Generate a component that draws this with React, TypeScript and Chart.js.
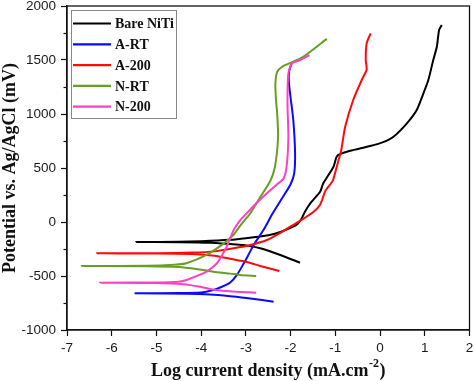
import React, { useEffect, useRef } from "react";
import { Chart, registerables } from "chart.js";

Chart.register(...registerables);

const seriesLabels = ["Bare NiTi", "A-RT", "A-200", "N-RT", "N-200"];
const seriesColors = ["#000000", "#0a0aff", "#ff0a0a", "#66a022", "#ff40c0"];

// Bare NiTi (cathodic end -> Ecorr -> anodic end)
const bareX = [-1.79, -2.23, -2.68, -3.06, -3.35, -3.8, -4.5, -5.45, -4.5, -4.0, -3.35, -3.0, -2.5, -2.23, -1.94, -1.83, -1.75, -1.68, -1.56, -1.34, -1.27, -1.04, -0.97, -0.9, -0.67, -0.22, 0.07, 0.3, 0.6, 0.82, 0.97, 1.08, 1.19, 1.27, 1.32, 1.38];
const bareY = [-377, -305, -243, -213, -204, -192, -187, -185, -183, -178, -165, -150, -122, -92, -43, -12, 34, 95, 173, 280, 358, 512, 605, 628, 660, 704, 740, 790, 914, 1037, 1192, 1315, 1500, 1623, 1778, 1824];

// A-RT
const artX = [-2.38, -2.9, -3.35, -3.8, -4.3, -5.47, -4.5, -4.0, -3.75, -3.55, -3.35, -3.2, -3.05, -2.95, -2.83, -2.6, -2.4, -2.16, -2.0, -1.92, -1.9, -1.94, -2.0, -2.04, -2.03, -1.97];
const artY = [-738, -708, -688, -672, -664, -660, -658, -652, -632, -602, -560, -490, -385, -310, -215, -70, 80, 240, 350, 450, 636, 944, 1150, 1300, 1400, 1475];

// A-200
const a200X = [-2.25, -2.68, -2.98, -3.35, -3.7, -4.2, -5.0, -6.33, -5.0, -4.2, -3.7, -3.28, -2.9, -2.53, -2.23, -2.0, -1.79, -1.5, -1.34, -1.22, -1.06, -0.95, -0.87, -0.78, -0.6, -0.41, -0.3, -0.32, -0.3, -0.21];
const a200Y = [-454, -407, -370, -340, -312, -296, -292, -290, -289, -283, -272, -244, -213, -167, -100, -40, 10, 90, 160, 290, 380, 540, 660, 882, 1130, 1315, 1410, 1500, 1654, 1747];

// N-RT
const nrtX = [-2.77, -3.13, -3.35, -3.73, -4.1, -4.5, -5.2, -6.67, -5.2, -4.6, -4.33, -3.88, -3.5, -3.28, -3.1, -2.9, -2.72, -2.46, -2.35, -2.28, -2.3, -2.33, -2.34, -2.3, -2.16, -1.94, -1.71, -1.19];
const nrtY = [-500, -490, -478, -460, -435, -416, -409, -407, -405, -395, -382, -305, -200, -120, -20, 81, 204, 375, 512, 790, 1000, 1150, 1284, 1390, 1445, 1484, 1531, 1696];

// N-200
const n200X = [-2.77, -3.13, -3.43, -3.75, -4.02, -4.4, -5.0, -6.26, -5.0, -4.5, -4.33, -3.88, -3.65, -3.43, -3.28, -3.13, -2.98, -2.75, -2.53, -2.3, -2.16, -2.09, -2.05, -2.07, -2.05, -1.97, -1.79, -1.58];
const n200Y = [-654, -648, -640, -625, -600, -576, -565, -562, -560, -553, -537, -460, -382, -229, -80, 15, 81, 180, 266, 350, 400, 512, 790, 1099, 1377, 1469, 1500, 1546];

const seriesX = [bareX, artX, a200X, nrtX, n200X];
const seriesY = [bareY, artY, a200Y, nrtY, n200Y];

const xMin = -7;
const xMax = 2;
const yMin = -1000;
const yMax = 2000;
const yMajorStep = 500;
const yMinorStep = 250;

const yTitle = "Potential vs. Ag/AgCl (mV)";
const xTitleMain = "Log current density (mA.cm";
const xTitleSup = "-2";
const xTitleEnd = ")";

export default function App() {
  const ref = useRef<HTMLCanvasElement>(null);

  useEffect(() => {
    document.body.style.margin = "0";
    const canvas = ref.current;
    if (!canvas) return;

    const decor = {
      id: "decor",
      afterDraw(chart: any) {
        const { ctx, chartArea: a, scales } = chart;
        ctx.save();
        // full frame
        ctx.strokeStyle = "#111";
        ctx.lineWidth = 1.3;
        ctx.strokeRect(a.left, a.top, a.right - a.left, a.bottom - a.top);
        // minor y ticks
        const ys = scales.y;
        ctx.lineWidth = 1.2;
        ys.ticks.forEach((t: any) => {
          if (t.value % yMajorStep !== 0) {
            const py = Math.round(ys.getPixelForValue(t.value)) + 0.5;
            ctx.beginPath();
            ctx.moveTo(a.left - 3.5, py);
            ctx.lineTo(a.left, py);
            ctx.stroke();
          }
        });
        // legend
        const lx = a.left + 4;
        const ly = a.top + 4;
        const lw = 105;
        const lh = 108;
        ctx.strokeStyle = "#888";
        ctx.lineWidth = 1;
        ctx.strokeRect(lx + 0.5, ly + 0.5, lw, lh);
        ctx.font = "bold 14px 'Liberation Serif', serif";
        ctx.textBaseline = "middle";
        ctx.textAlign = "left";
        chart.data.datasets.forEach((ds: any, i: number) => {
          const ry = ly + 13.5 + i * 20.8;
          ctx.strokeStyle = ds.borderColor;
          ctx.lineWidth = 2.2;
          ctx.beginPath();
          ctx.moveTo(lx + 2, ry);
          ctx.lineTo(lx + 40, ry);
          ctx.stroke();
          ctx.fillStyle = "#111";
          ctx.fillText(ds.label, lx + 44, ry + 1);
        });
        // y title
        ctx.fillStyle = "#111";
        ctx.font = "bold 18px 'Liberation Serif', serif";
        ctx.save();
        ctx.translate(10, (a.top + a.bottom) / 2);
        ctx.rotate(-Math.PI / 2);
        ctx.textAlign = "center";
        ctx.textBaseline = "middle";
        ctx.fillText(yTitle, 0, 0);
        ctx.restore();
        // x title with superscript
        const mainFont = "bold 18px 'Liberation Serif', serif";
        const supFont = "bold 12px 'Liberation Serif', serif";
        ctx.font = mainFont;
        const w1 = ctx.measureText(xTitleMain).width;
        const w3 = ctx.measureText(xTitleEnd).width;
        ctx.font = supFont;
        const w2 = ctx.measureText(xTitleSup).width;
        const total = w1 + w2 + w3 + 1;
        let sx = (a.left + a.right) / 2 - total / 2;
        const by = 376;
        ctx.textAlign = "left";
        ctx.textBaseline = "alphabetic";
        ctx.font = mainFont;
        ctx.fillText(xTitleMain, sx, by);
        sx += w1 + 0.5;
        ctx.font = supFont;
        ctx.fillText(xTitleSup, sx, by - 9);
        sx += w2 + 0.5;
        ctx.font = mainFont;
        ctx.fillText(xTitleEnd, sx, by);
        ctx.restore();
      },
    };

    const tickFont = { family: "'Liberation Sans', Arial, sans-serif", size: 13.5 };

    const chart = new Chart(canvas, {
      type: "scatter",
      data: {
        datasets: seriesLabels.map((label, i) => ({
          label,
          data: seriesX[i].map((x, j) => ({ x, y: seriesY[i][j] })),
          borderColor: seriesColors[i],
          backgroundColor: seriesColors[i],
          showLine: true,
          pointRadius: 0,
          borderWidth: 2,
          tension: 0.2,
          order: seriesLabels.length - i,
        })),
      },
      options: {
        responsive: false,
        animation: false,
        layout: { padding: { left: 0, top: 6, right: 4.5, bottom: 0 } },
        plugins: { legend: { display: false }, tooltip: { enabled: false } },
        scales: {
          x: {
            type: "linear",
            min: xMin,
            max: xMax,
            ticks: { stepSize: 1, font: tickFont, color: "#1a1a1a", padding: 4, autoSkip: false },
            grid: { drawOnChartArea: false, drawTicks: true, tickLength: 6, tickColor: "#111", tickWidth: 1.2 },
            border: { display: true, color: "#111", width: 1.3 },
            afterFit(scale: any) {
              scale.height = 51;
              scale.paddingLeft = 0;
              scale.paddingRight = 0;
            },
          },
          y: {
            type: "linear",
            min: yMin,
            max: yMax,
            ticks: {
              stepSize: yMinorStep,
              font: tickFont,
              color: "#1a1a1a",
              padding: 5,
              autoSkip: false,
              callback: (v: any) => (Number(v) % yMajorStep === 0 ? String(v) : ""),
            },
            grid: {
              drawOnChartArea: false,
              drawTicks: true,
              tickLength: 6,
              tickWidth: 1.2,
              tickColor: (c: any) => (c.tick && c.tick.value % yMajorStep === 0 ? "#111" : "rgba(0,0,0,0)"),
            },
            border: { display: true, color: "#111", width: 1.3 },
            afterFit(scale: any) {
              scale.width = 67;
              scale.paddingTop = 0;
              scale.paddingBottom = 0;
            },
          },
        },
      },
      plugins: [decor],
    } as any);

    return () => chart.destroy();
  }, []);

  return (
    <div style={{ width: 474, height: 381 }}>
      <canvas ref={ref} width={474} height={381} style={{ display: "block" }} />
    </div>
  );
}
